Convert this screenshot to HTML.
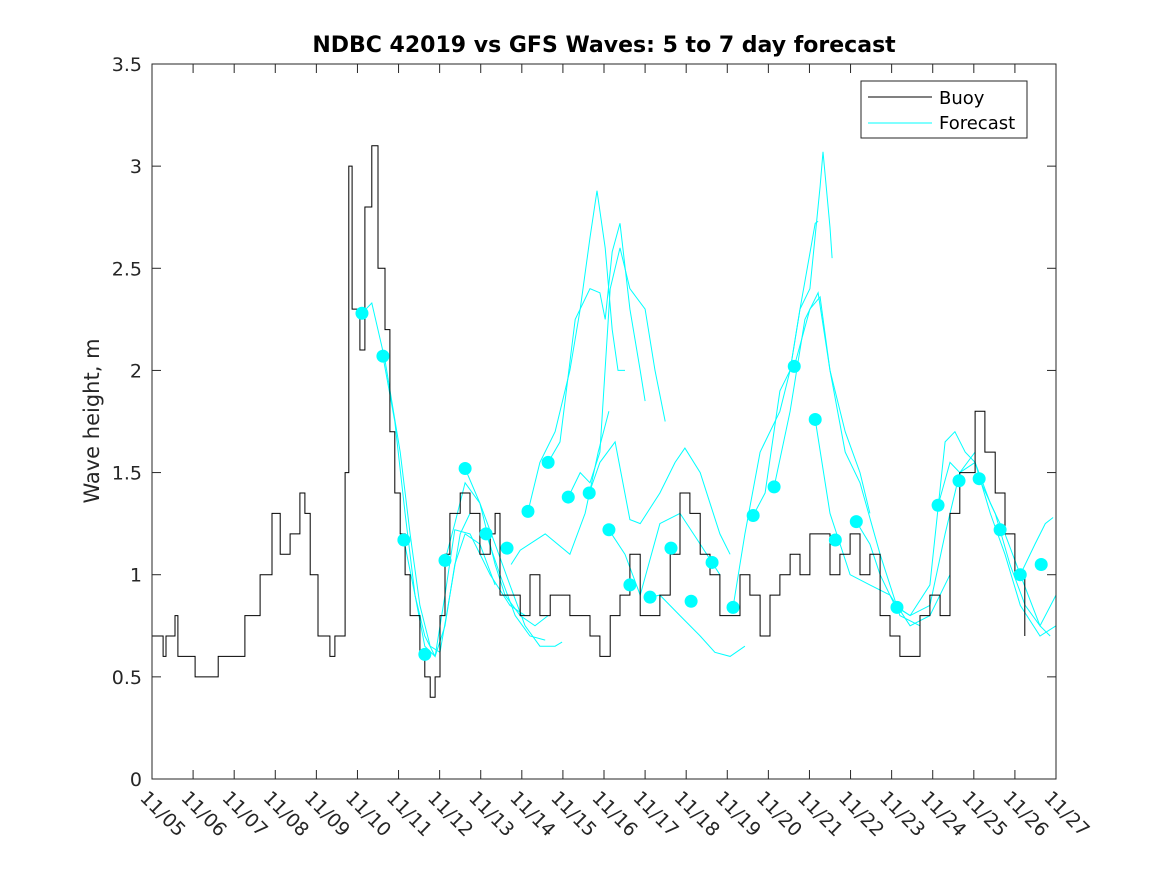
<!DOCTYPE html>
<html><head><meta charset="utf-8"><style>
body{margin:0;background:#fff}
svg{display:block;font-family:"DejaVu Sans","Liberation Sans",sans-serif}
</style></head><body>
<svg id="chart" width="1167" height="875" viewBox="0 0 1167 875">
<rect x="0" y="0" width="1167" height="875" fill="#fff"/>
<g id="marks"></g>
<g id="axes"></g>
</svg>
<script>
const dayLabels=["11/05","11/06","11/07","11/08","11/09","11/10","11/11","11/12","11/13","11/14","11/15","11/16","11/17","11/18","11/19","11/20","11/21","11/22","11/23","11/24","11/25","11/26","11/27"];
const yTicks=[0,0.5,1,1.5,2,2.5,3,3.5];
const buoyDays=[0,0.19,0.27,0.34,0.49,0.56,0.63,1.05,1.61,2.26,2.63,2.92,3.12,3.36,3.60,3.72,3.85,4.04,4.33,4.45,4.58,4.70,4.79,4.87,5.06,5.18,5.35,5.50,5.67,5.79,5.91,6.04,6.16,6.28,6.52,6.64,6.77,6.89,7.01,7.13,7.25,7.50,7.74,7.98,8.23,8.35,8.47,8.71,8.96,9.20,9.44,9.69,9.93,10.17,10.42,10.66,10.90,11.15,11.39,11.63,11.88,12.12,12.36,12.61,12.85,13.09,13.34,13.58,13.82,14.07,14.31,14.55,14.80,15.04,15.28,15.53,15.77,16.01,16.26,16.50,16.74,16.99,17.23,17.47,17.72,17.96,18.20,18.45,18.69,18.93,19.18,19.42,19.66,19.91,20.03,20.27,20.52,20.76,21.00,21.24];
const buoyVals=[0.7,0.7,0.6,0.7,0.7,0.8,0.6,0.5,0.6,0.8,1.0,1.3,1.1,1.2,1.4,1.3,1.0,0.7,0.6,0.7,0.7,1.5,3.0,2.3,2.1,2.8,3.1,2.5,2.2,1.7,1.4,1.2,1.0,0.8,0.6,0.5,0.4,0.5,0.8,1.1,1.3,1.4,1.3,1.1,1.2,1.3,0.9,0.9,0.8,1.0,0.8,0.9,0.9,0.8,0.8,0.7,0.6,0.8,0.9,1.1,0.8,0.8,0.9,1.1,1.4,1.3,1.1,1.0,0.8,0.8,1.0,0.9,0.7,0.9,1.0,1.1,1.0,1.2,1.2,1.0,1.1,1.2,1.0,1.1,0.8,0.7,0.6,0.6,0.8,0.9,0.8,1.3,1.5,1.5,1.8,1.6,1.4,1.2,1.0,0.7];
const fcDays=[
[5.11,5.35,5.67,6.04,6.28,6.52,6.77,7.01,7.25,7.50,7.74],
[5.62,5.91,6.16,6.40,6.64,6.89,7.13,7.37,7.62,7.98,8.35],
[6.13,6.40,6.64,6.89,7.13,7.37,7.74,8.23,8.71,9.08],
[7.13,7.37,7.62,7.98,8.35,8.59,8.96,9.32,9.64],
[7.62,7.98,8.35,8.71,9.08,9.44,9.81,9.98],
[8.13,8.47,8.84,9.20,9.57],
[8.74,8.96,9.57,10.17,10.54,10.86,11.12],
[9.15,9.44,9.81,10.17,10.42,10.66,10.83,11.03,11.20,11.34,11.51],
[9.64,9.93,10.30,10.66,10.90,11.03,11.20,11.39,11.63,11.88,12.00],
[10.13,10.42,10.66,10.90,11.15,11.39,11.63,12.00,12.24,12.49],
[10.64,10.90,11.27,11.63,11.88,12.36,12.73,12.97,13.34,13.58,13.82,14.07],
[11.12,11.51,11.88,12.36,12.85,13.34,13.82],
[12.12,12.36,12.85,13.34,13.70,14.07,14.43],
[14.14,14.43,14.80,15.28,15.53,15.77,16.14,16.21],
[14.63,14.92,15.28,15.53,15.77,16.01,16.26,16.33,16.50,16.55],
[15.14,15.53,15.89,16.21,16.50,16.87,17.23,17.47],
[15.63,16.01,16.26,16.50,16.87,17.23,17.72,18.20,18.69],
[16.14,16.50,16.99,17.47,17.96,18.45,18.93,19.42],
[17.14,17.47,17.72,18.08,18.45,18.93,19.30,19.66,20.03],
[18.13,18.45,18.93,19.30,19.54,19.79,20.03,20.40,20.76,21.13,21.61,22.00],
[19.13,19.42,19.66,20.03,20.40,20.76,21.13,21.61,21.86],
[20.13,20.52,20.88,21.25,21.61,22.00],
[21.13,21.49,21.74,21.93]];
const fcVals=[
[2.28,2.33,2.05,1.6,1.2,0.85,0.65,0.62,0.9,1.2,1.3],
[2.07,1.75,1.3,0.9,0.7,0.6,0.75,1.05,1.2,1.15,0.95],
[1.17,0.9,0.65,0.6,0.9,1.22,1.2,1.0,0.85,0.8],
[1.07,1.25,1.45,1.35,1.05,0.9,0.8,0.75,0.8],
[1.52,1.35,1.15,0.95,0.75,0.65,0.65,0.67],
[1.2,1.0,0.8,0.7,0.68],
[1.05,1.12,1.2,1.1,1.3,1.6,1.8],
[1.31,1.55,1.7,2.0,2.3,2.65,2.88,2.6,2.2,2.0,2.0],
[1.55,1.65,2.25,2.4,2.38,2.25,2.58,2.72,2.3,2.0,1.85],
[1.38,1.5,1.45,1.6,2.4,2.6,2.4,2.3,2.0,1.75],
[1.40,1.55,1.65,1.27,1.25,1.4,1.55,1.62,1.5,1.35,1.2,1.1],
[1.22,1.1,0.9,1.25,1.3,1.15,1.0],
[0.89,0.9,0.8,0.7,0.62,0.6,0.65],
[0.84,1.2,1.6,1.8,2.0,2.3,2.72,2.73],
[1.29,1.4,1.9,2.0,2.3,2.4,2.9,3.07,2.7,2.55],
[1.43,1.8,2.25,2.38,2.0,1.7,1.5,1.3],
[2.02,2.3,2.36,2.0,1.6,1.45,1.1,0.8,0.75],
[1.76,1.3,1.0,0.95,0.9,0.75,0.8,1.0],
[1.26,1.15,1.0,0.85,0.8,0.85,1.2,1.5,1.6],
[0.84,0.8,0.95,1.65,1.7,1.6,1.55,1.3,1.1,0.85,0.7,0.75],
[1.34,1.55,1.5,1.55,1.35,1.2,1.0,0.75,0.7],
[1.47,1.3,1.05,0.85,0.75,0.9],
[1.0,1.15,1.25,1.28]];
const dotDays=[5.11,5.62,6.13,6.64,7.13,7.62,8.13,8.64,9.15,9.64,10.13,10.64,11.12,11.63,12.12,12.63,13.12,13.63,14.14,14.63,15.14,15.63,16.14,16.63,17.14,18.13,19.13,19.64,20.13,20.64,21.13,21.64];
const dotVals=[2.28,2.07,1.17,0.61,1.07,1.52,1.20,1.13,1.31,1.55,1.38,1.40,1.22,0.95,0.89,1.13,0.87,1.06,0.84,1.29,1.43,2.02,1.76,1.17,1.26,0.84,1.34,1.46,1.47,1.22,1.00,1.05];

const NS="http://www.w3.org/2000/svg";
const L=152,R=1056,T=64,B=779;
const xs=d=>L+(R-L)*d/22;
const ys=v=>B-(B-T)*v/3.5;
function mk(tag,attrs,parent){const e=document.createElementNS(NS,tag);for(const k in attrs)e.setAttribute(k,attrs[k]);parent.appendChild(e);return e;}
const marks=document.getElementById('marks'),axes=document.getElementById('axes');
fcDays.forEach((ds,i)=>{
  const p=mk('polyline',{points:ds.map((d,j)=>xs(d).toFixed(1)+','+ys(fcVals[i][j]).toFixed(1)).join(' '),fill:'none',stroke:'#00ffff','stroke-width':1},marks);
  
  
});
// buoy as stairs (quantized hourly data)
let bp=[];
buoyDays.forEach((d,j)=>{
  if(j>0) bp.push(xs(d).toFixed(1)+','+ys(buoyVals[j-1]).toFixed(1));
  bp.push(xs(d).toFixed(1)+','+ys(buoyVals[j]).toFixed(1));
});
const bl=mk('polyline',{points:bp.join(' '),fill:'none',stroke:'#000','stroke-width':1},marks);


dotDays.forEach((d,i)=>{
  const c=mk('circle',{cx:xs(d),cy:ys(dotVals[i]),r:6.5,fill:'#00ffff'},marks);
  
  
});
const box=mk('rect',{x:L,y:T,width:R-L,height:B-T,fill:'none',stroke:'#262626','stroke-width':1},axes);


dayLabels.forEach((lab,i)=>{
  const x=xs(i);
  mk('line',{x1:x,y1:B,x2:x,y2:B-9,stroke:'#262626'},axes);
  mk('line',{x1:x,y1:T,x2:x,y2:T+9,stroke:'#262626'},axes);
  const t=mk('text',{x:0,y:0,transform:`translate(${x-13},${B+20}) rotate(45)`,'font-size':19,fill:'#262626'},axes);
  t.textContent=lab;
  
  
});
yTicks.forEach(v=>{
  const y=ys(v);
  mk('line',{x1:L,y1:y,x2:L+9,y2:y,stroke:'#262626'},axes);
  mk('line',{x1:R,y1:y,x2:R-9,y2:y,stroke:'#262626'},axes);
  const t=mk('text',{x:L-10,y:y+7,'text-anchor':'end','font-size':19,fill:'#262626'},axes);
  t.textContent=String(v);
  
  
});
</script>
<div style="position:absolute;left:0;top:0;width:1167px;height:875px;pointer-events:none">
<svg width="1167" height="875" style="font-family:'DejaVu Sans','Liberation Sans',sans-serif">
<text x="604" y="52" text-anchor="middle" font-size="22" font-weight="bold" fill="#000">NDBC 42019 vs GFS Waves: 5 to 7 day forecast</text>
<text transform="translate(99,421) rotate(-90)" text-anchor="middle" font-size="21" fill="#262626">Wave height, m</text>
<g>
<rect x="861" y="81" width="166" height="57" fill="#fff" stroke="#262626"/>
<line x1="868" y1="97" x2="932" y2="97" stroke="#000"/>
<text x="939" y="104" font-size="18" fill="#000">Buoy</text>
<line x1="868" y1="123" x2="932" y2="123" stroke="#00ffff"/>
<text x="939" y="129" font-size="18" fill="#000">Forecast</text>
</g>
</svg>
</div>
</body></html>
